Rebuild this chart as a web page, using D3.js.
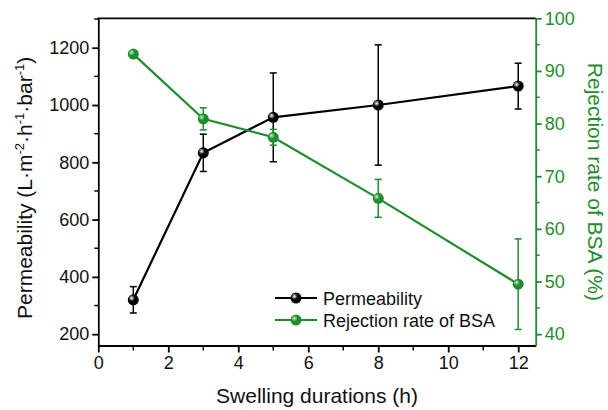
<!DOCTYPE html>
<html>
<head>
<meta charset="utf-8">
<script src="https://cdn.jsdelivr.net/npm/d3@7"></script>
<style>
  body { margin: 0; background: #fff; }
  svg { font-family: "Liberation Sans", Arial, sans-serif; }
</style>
</head>
<body>
<svg id="chart" width="608" height="410"></svg>
<script>
// swelling durations (h)
var hours = [1, 3, 5, 8, 12];
// permeability (L m-2 h-1 bar-1) and its error
var permeability = [320, 833, 957, 1000, 1066];
var permErr = [46, 65, 155, 210, 80];
// rejection rate of BSA (%) and its error
var rejection = [93.2, 80.9, 77.4, 65.8, 49.5];
var rejErr = [0, 2.1, 1.5, 3.6, 8.6];

var xTicks = [0, 2, 4, 6, 8, 10, 12];
var leftTicks = [200, 400, 600, 800, 1000, 1200];
var rightTicks = [40, 50, 60, 70, 80, 90, 100];

var green = "#1f8c2e";
var svg = d3.select("#chart");

var plotL = 98.3, plotR = 535.7, plotT = 18.3, plotB = 345.5;

var xScale = d3.scaleLinear().domain([0, 12.5]).range([plotL, plotR]);
var yLeft = d3.scaleLinear().domain([160.5, 1302.7]).range([plotB, plotT]);
var yRight = d3.scaleLinear().domain([37.85, 100]).range([plotB, plotT]);

// gradients for the shiny markers
var defs = svg.append("defs");
var makeGrad = function (id, light, dark) {
  var g = defs.append("radialGradient").attr("id", id)
    .attr("cx", "35%").attr("cy", "35%").attr("r", "65%");
  g.append("stop").attr("offset", "0%").attr("stop-color", light);
  g.append("stop").attr("offset", "45%").attr("stop-color", dark);
  g.append("stop").attr("offset", "100%").attr("stop-color", dark);
};
makeGrad("gBlack", "#ffffff", "#000000");
makeGrad("gGreen", "#c8f0c8", green);

// minor ticks
var minorX = d3.range(1, 13, 2);
var minorLeft = d3.range(300, 1301, 200);
var minorRight = d3.range(45, 100, 10);
var fmt = d3.format("d");

// bottom axis
var xAxis = svg.append("g").attr("transform", "translate(0," + plotB + ")")
  .call(d3.axisBottom(xScale).tickValues(xTicks).tickFormat(fmt).tickSize(7).tickPadding(4).tickSizeOuter(0));
svg.append("g").selectAll("line").data(minorX).enter().append("line")
  .attr("x1", function (d) { return xScale(d); }).attr("x2", function (d) { return xScale(d); })
  .attr("y1", plotB).attr("y2", plotB + 5)
  .attr("stroke", "#000").attr("stroke-width", 1.5);

// left axis
var lAxis = svg.append("g").attr("transform", "translate(" + plotL + ",0)")
  .call(d3.axisLeft(yLeft).tickValues(leftTicks).tickFormat(fmt).tickSize(6).tickPadding(3).tickSizeOuter(0));
svg.append("g").selectAll("line").data(minorLeft).enter().append("line")
  .attr("x1", plotL).attr("x2", plotL - 4)
  .attr("y1", function (d) { return yLeft(d); }).attr("y2", function (d) { return yLeft(d); })
  .attr("stroke", "#000").attr("stroke-width", 1.5);

// right axis
var rAxis = svg.append("g").attr("transform", "translate(" + plotR + ",0)")
  .call(d3.axisRight(yRight).tickValues(rightTicks).tickFormat(fmt).tickSize(6).tickPadding(3).tickSizeOuter(0));
svg.append("g").selectAll("line").data(minorRight).enter().append("line")
  .attr("x1", plotR).attr("x2", plotR + 4)
  .attr("y1", function (d) { return yRight(d); }).attr("y2", function (d) { return yRight(d); })
  .attr("stroke", green).attr("stroke-width", 1.5);

[xAxis, lAxis].forEach(function (a) {
  a.selectAll("path, line").attr("stroke", "#000").attr("stroke-width", 1.8);
  a.selectAll("text").attr("font-size", 18).attr("fill", "#111");
});
rAxis.selectAll("path, line").attr("stroke", green).attr("stroke-width", 1.8);
rAxis.selectAll("text").attr("font-size", 18).attr("fill", green);
svg.selectAll(".tick text").attr("font-family", null);
svg.selectAll("g").filter(function () { return this.getAttribute("font-family") === "sans-serif"; })
  .attr("font-family", null);

// top frame line
svg.append("line").attr("x1", plotL - 0.9).attr("x2", plotR)
  .attr("y1", plotT).attr("y2", plotT).attr("stroke", "#000").attr("stroke-width", 1.8);

// series
var drawSeries = function (vals, errs, yScale, color, grad) {
  var g = svg.append("g");
  var pts = hours.map(function (h, i) { return { x: h, y: vals[i], e: errs[i] }; });
  g.selectAll(".err").data(pts.filter(function (p) { return p.e > 0; })).enter().append("g")
    .each(function (p) {
      var s = d3.select(this);
      var cx = xScale(p.x);
      s.append("line").attr("x1", cx).attr("x2", cx)
        .attr("y1", yScale(p.y - p.e)).attr("y2", yScale(p.y + p.e));
      s.append("line").attr("x1", cx - 3.5).attr("x2", cx + 3.5)
        .attr("y1", yScale(p.y - p.e)).attr("y2", yScale(p.y - p.e));
      s.append("line").attr("x1", cx - 3.5).attr("x2", cx + 3.5)
        .attr("y1", yScale(p.y + p.e)).attr("y2", yScale(p.y + p.e));
    })
    .selectAll("line").attr("stroke", color).attr("stroke-width", 1.5);
  g.append("path").datum(pts)
    .attr("d", d3.line().x(function (p) { return xScale(p.x); }).y(function (p) { return yScale(p.y); }))
    .attr("fill", "none").attr("stroke", color).attr("stroke-width", 2.2);
  g.selectAll("circle").data(pts).enter().append("circle")
    .attr("cx", function (p) { return xScale(p.x); })
    .attr("cy", function (p) { return yScale(p.y); })
    .attr("r", 5.5).attr("fill", "url(#" + grad + ")");
};
drawSeries(permeability, permErr, yLeft, "#000", "gBlack");
drawSeries(rejection, rejErr, yRight, green, "gGreen");

// legend
var legend = [
  { name: "Permeability", color: "#000", grad: "gBlack", y: 298 },
  { name: "Rejection rate of BSA", color: green, grad: "gGreen", y: 320 }
];
var lg = svg.append("g");
legend.forEach(function (d) {
  lg.append("line").attr("x1", 275).attr("x2", 317).attr("y1", d.y).attr("y2", d.y)
    .attr("stroke", d.color).attr("stroke-width", 2.2);
  lg.append("circle").attr("cx", 296).attr("cy", d.y).attr("r", 5.5).attr("fill", "url(#" + d.grad + ")");
  lg.append("text").attr("x", 323).attr("y", d.y + 6.5).attr("font-size", 18).attr("fill", "#111").text(d.name);
});

// axis titles
svg.append("text").attr("x", (plotL + plotR) / 2).attr("y", 403)
  .attr("text-anchor", "middle").attr("font-size", 21).attr("fill", "#111")
  .text("Swelling durations (h)");

var lt = svg.append("text").attr("transform", "translate(32," + ((plotT + plotB) / 2 + 6) + ") rotate(-90)")
  .attr("text-anchor", "middle").attr("font-size", 21).attr("fill", "#111");
lt.append("tspan").text("Permeability (L·m");
lt.append("tspan").attr("font-size", 13).attr("dy", -8).text("-2");
lt.append("tspan").attr("dy", 8).text("·h");
lt.append("tspan").attr("font-size", 13).attr("dy", -8).text("-1");
lt.append("tspan").attr("dy", 8).text("·bar");
lt.append("tspan").attr("font-size", 13).attr("dy", -8).text("-1");
lt.append("tspan").attr("dy", 8).text(")");

svg.append("text").attr("transform", "translate(588," + ((plotT + plotB) / 2) + ") rotate(90)")
  .attr("text-anchor", "middle").attr("font-size", 21).attr("fill", green)
  .text("Rejection rate of BSA (%)");
</script>
</body>
</html>
